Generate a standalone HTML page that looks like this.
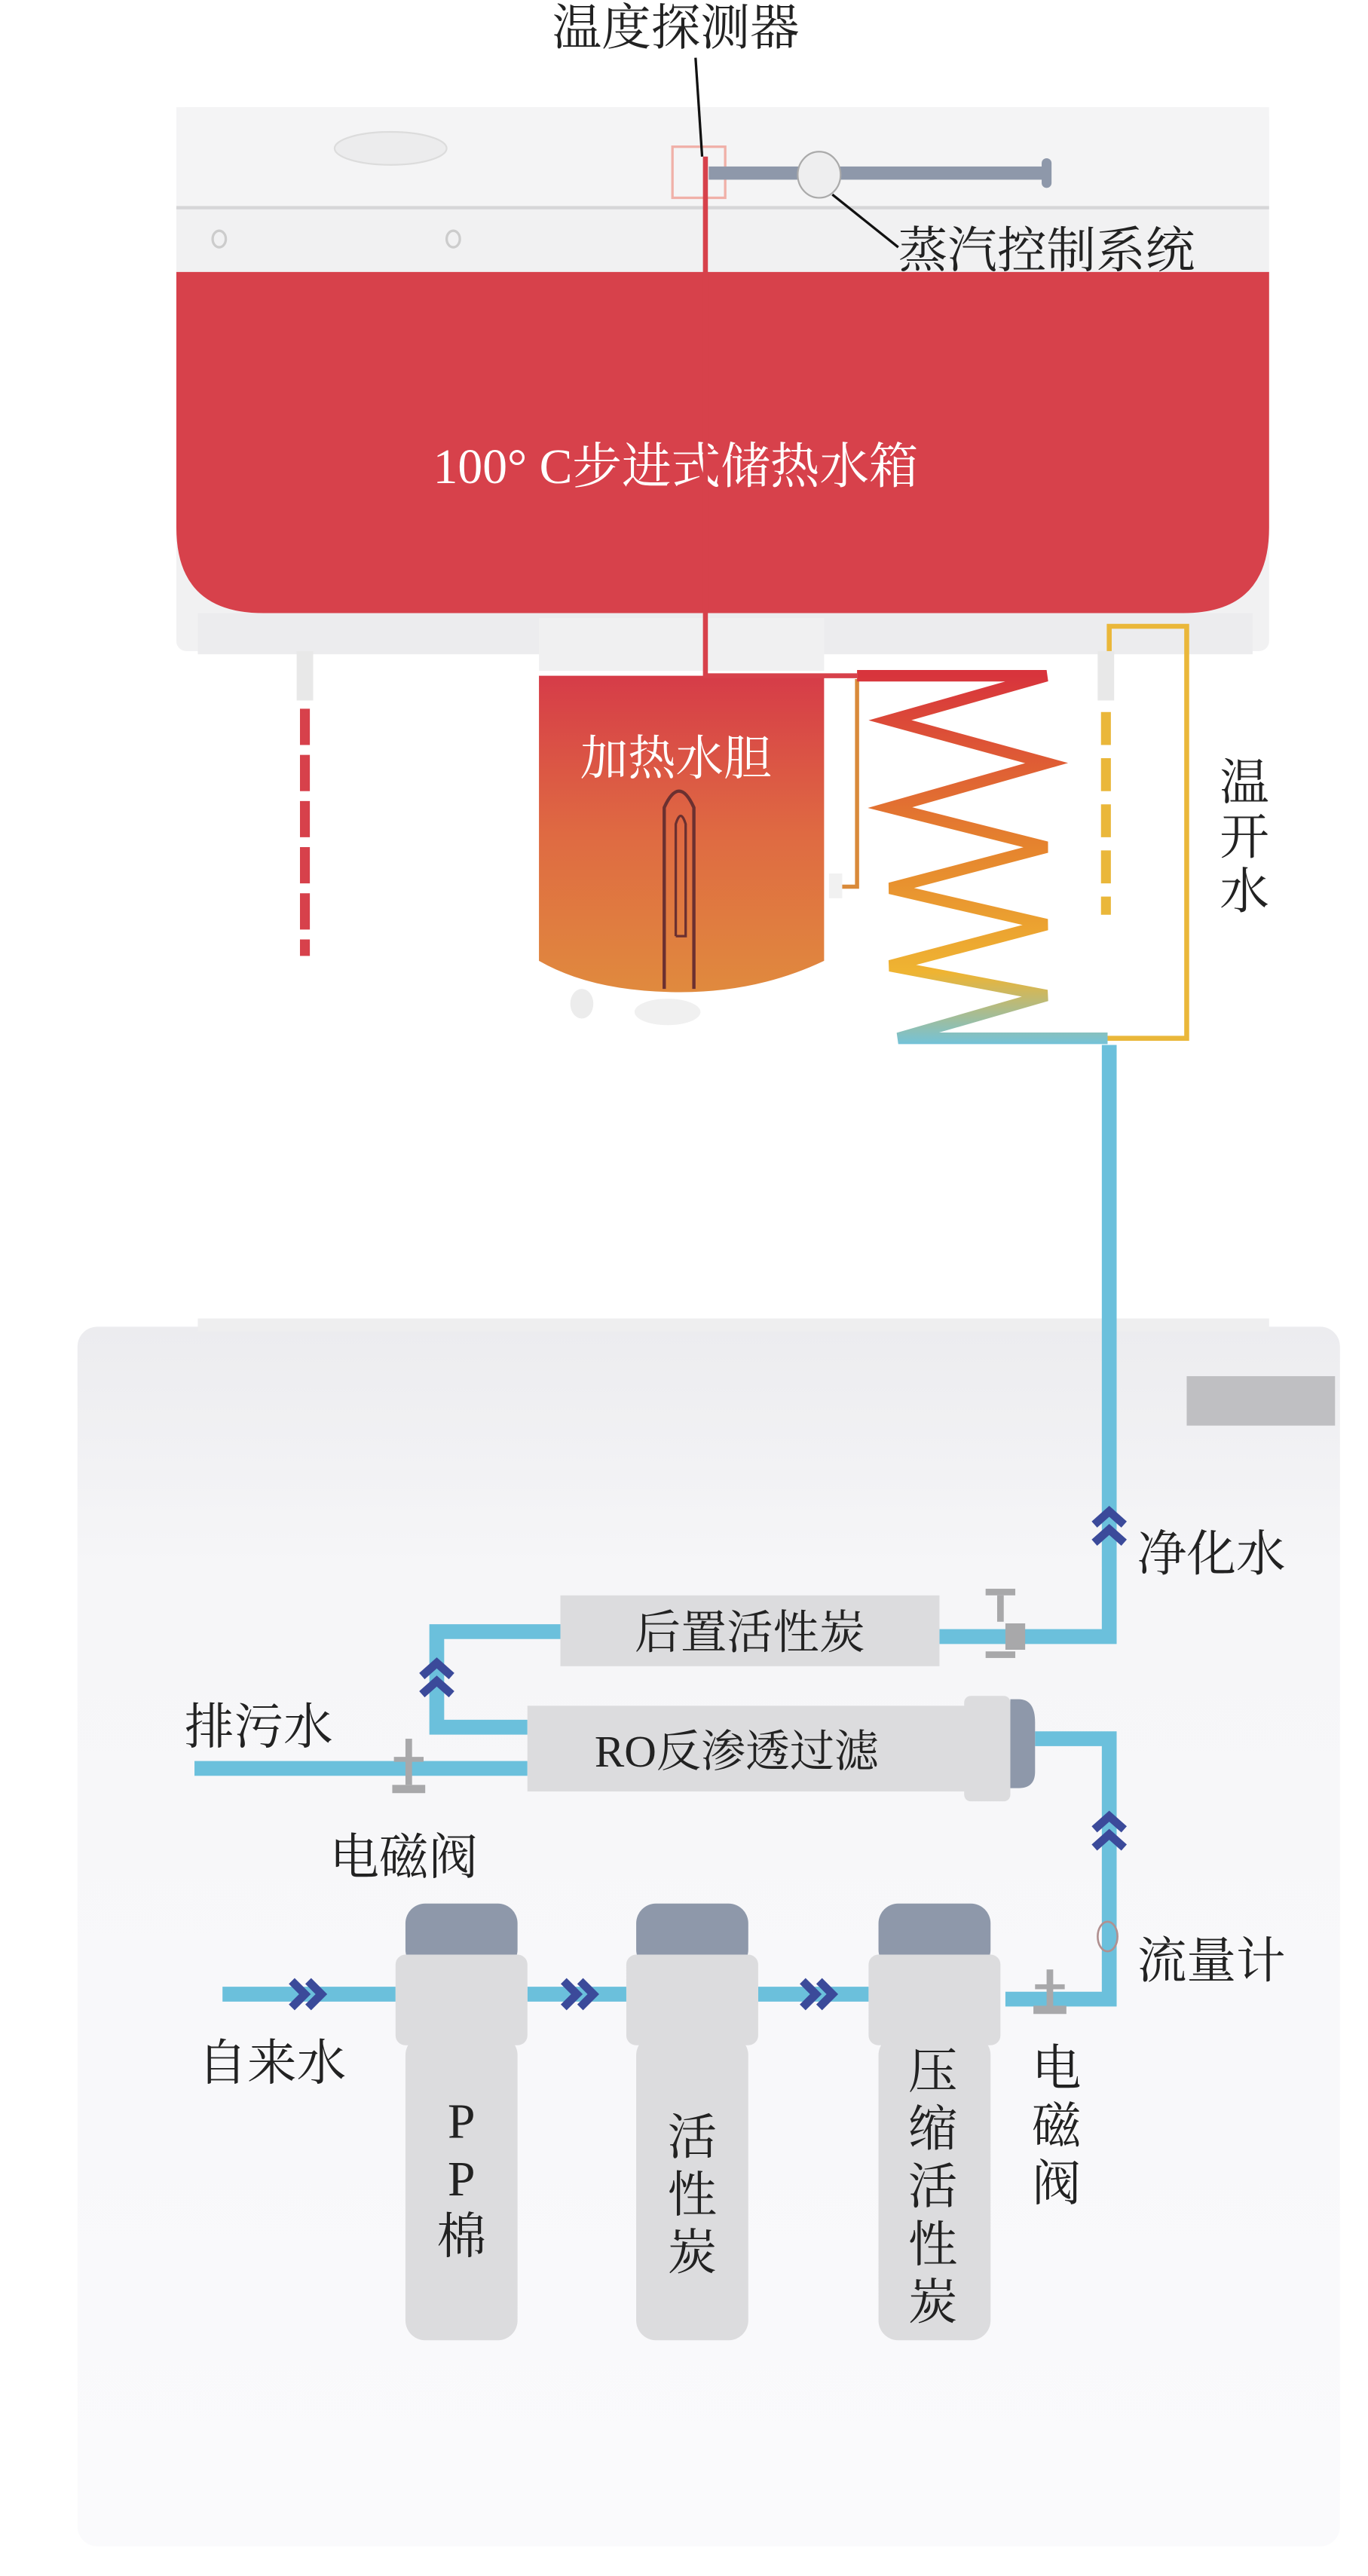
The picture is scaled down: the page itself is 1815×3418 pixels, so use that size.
<!DOCTYPE html>
<html><head><meta charset="utf-8"><style>
html,body{margin:0;padding:0;background:#fff;}
svg{display:block}
text{font-family:"Liberation Serif","Noto Serif CJK SC","Noto Sans CJK SC",serif;}
</style></head><body>
<svg width="1815" height="3418" viewBox="0 0 830 1563" xmlns="http://www.w3.org/2000/svg">
<defs>
<linearGradient id="heat" x1="0" y1="0" x2="0" y2="1">
<stop offset="0" stop-color="#d63c48"/><stop offset="0.5" stop-color="#df6a42"/><stop offset="1" stop-color="#e08a3e"/></linearGradient>
<linearGradient id="coil" x1="0" y1="410" x2="0" y2="635" gradientUnits="userSpaceOnUse">
<stop offset="0" stop-color="#d8343c"/><stop offset="0.45" stop-color="#e5822e"/><stop offset="0.8" stop-color="#efb432"/><stop offset="1" stop-color="#6fc3de"/></linearGradient>
<linearGradient id="cab" x1="0" y1="0" x2="0" y2="1">
<stop offset="0" stop-color="#ececef"/><stop offset="0.2" stop-color="#f6f6f8"/><stop offset="1" stop-color="#fafafc"/></linearGradient>
</defs>
<rect width="830" height="1563" fill="#fff"/>
<!-- lower cabinet -->
<rect x="47" y="805" width="766" height="740" rx="12" fill="url(#cab)"/>
<rect x="120" y="800" width="650" height="8" fill="#eeeeef"/>
<rect x="720" y="835" width="90" height="30" fill="#bfbfc2"/>
<!-- top housing -->
<rect x="107" y="65" width="663" height="330" rx="6" fill="#f1f1f2"/>
<rect x="107" y="65" width="663" height="60" fill="#f4f4f5"/>
<line x1="107" y1="126" x2="770" y2="126" stroke="#d6d6d8" stroke-width="2"/>
<ellipse cx="237" cy="90" rx="34" ry="10" fill="#ececed" stroke="#dcdcdc"/>
<ellipse cx="133" cy="145" rx="4" ry="5" fill="none" stroke="#ccc" stroke-width="1.5"/>
<ellipse cx="275" cy="145" rx="4" ry="5" fill="none" stroke="#ccc" stroke-width="1.5"/>
<path d="M107 165 H770 V320 Q770 372 718 372 H160 Q107 372 107 320 Z" fill="#d7414b"/>
<rect x="120" y="372" width="640" height="25" fill="#ececee"/>
<text x="410" y="293" font-size="30" fill="#fff" text-anchor="middle">100° C步进式储热水箱</text>
<!-- sensor & steam -->
<rect x="408" y="89" width="32" height="31" fill="none" stroke="#f0b0a8" stroke-width="1.5"/>
<rect x="430" y="101" width="205" height="8" fill="#8e98aa"/>
<rect x="632" y="96" width="6" height="18" rx="3" fill="#8e98aa"/>
<ellipse cx="497" cy="106" rx="13" ry="14" fill="#eeeeef" stroke="#aaa"/>
<line x1="422" y1="35" x2="426" y2="95" stroke="#111" stroke-width="1.5"/>
<line x1="505" y1="118" x2="545" y2="150" stroke="#111" stroke-width="1.5"/>
<text x="410" y="27" font-size="30" fill="#222" text-anchor="middle">温度探测器</text>
<text x="545" y="162" font-size="30" fill="#222">蒸汽控制系统</text>
<!-- heater -->
<rect x="327" y="375" width="173" height="32" fill="#f0f0f1"/>
<path d="M327 410 H500 V583 Q460 602 413 602 Q360 602 327 583 Z" fill="url(#heat)"/>
<ellipse cx="353" cy="609" rx="7" ry="9" fill="#ececec"/>
<ellipse cx="405" cy="614" rx="20" ry="8" fill="#f0f0f0"/>
<path d="M403 600 V490 Q412 470 421 490 V600" fill="none" stroke="#6b3030" stroke-width="2"/>
<path d="M410 568 V500 Q413 490 416 500 V568 H410" fill="none" stroke="#6b3030" stroke-width="1.5"/>
<text x="410" y="470" font-size="29" fill="#fff" text-anchor="middle">加热水胆</text>
<rect x="503" y="530" width="8" height="15" fill="#f1f1f1"/>
<path d="M511 538 H520 V412" fill="none" stroke="#d98a3a" stroke-width="2.5"/>
<!-- red line -->
<path d="M428 95 V410 H520" fill="none" stroke="#d7414b" stroke-width="3"/>
<!-- coil -->
<path d="M520 410 H635 L540 437 L635 463 L540 490 L635 514 L540 539 L635 561 L540 586 L635 604 L545 630 H672" fill="none" stroke="url(#coil)" stroke-width="7" stroke-linejoin="miter"/>
<!-- left red dashed -->
<rect x="180" y="395" width="10" height="30" fill="#e8e8e8"/>
<line x1="185" y1="430" x2="185" y2="580" stroke="#d7414b" stroke-width="6" stroke-dasharray="22 6"/>
<!-- right yellow -->
<rect x="666" y="395" width="10" height="30" fill="#e8e8e8"/>
<line x1="671" y1="432" x2="671" y2="555" stroke="#eab73a" stroke-width="6" stroke-dasharray="20 8"/>
<path d="M673 395 V380 H720 V630 H672" fill="none" stroke="#eab73a" stroke-width="3"/>
<text font-size="30" fill="#222"><tspan x="740" y="485">温</tspan><tspan x="740" y="518">开</tspan><tspan x="740" y="551">水</tspan></text>
<!-- blue pipes -->
<g fill="none" stroke="#6bc0dc" stroke-width="9">
<path d="M673 634 V993 H570"/>
<path d="M340 990 H265 V1048 H320"/>
<path d="M118 1073 H320"/>
<path d="M628 1055 H673 V1213 H610"/>
<path d="M135 1210 H240 M320 1210 H380 M460 1210 H527"/>
</g>
<!-- chevrons -->
<g fill="none" stroke="#3b4a9a" stroke-width="5">
<path d="M664 925 L673 917 L682 925 M664 936 L673 928 L682 936"/>
<path d="M256 1017 L265 1009 L274 1017 M256 1028 L265 1020 L274 1028"/>
<path d="M664 1110 L673 1102 L682 1110 M664 1121 L673 1113 L682 1121"/>
<path d="M177 1202 L185 1210 L177 1218 M187 1202 L195 1210 L187 1218"/>
<path d="M342 1202 L350 1210 L342 1218 M352 1202 L360 1210 L352 1218"/>
<path d="M487 1202 L495 1210 L487 1218 M497 1202 L505 1210 L497 1218"/>
</g>
<!-- valves -->
<g fill="#a8a8aa">
<rect x="610" y="985" width="12" height="16"/><rect x="598" y="964" width="18" height="4"/><rect x="605" y="968" width="4" height="16"/><rect x="598" y="1002" width="18" height="4"/>
<rect x="246" y="1055" width="4" height="28"/><rect x="239" y="1066" width="18" height="3"/><rect x="238" y="1083" width="20" height="5"/>
<rect x="635" y="1195" width="4" height="25"/><rect x="628" y="1204" width="18" height="3"/><rect x="627" y="1217" width="20" height="5"/>
</g>
<ellipse cx="672" cy="1175" rx="6" ry="9" fill="none" stroke="#b09090" stroke-width="1.2"/>
<!-- boxes -->
<rect x="340" y="968" width="230" height="43" fill="#dcdcde"/>
<text x="455" y="1000" font-size="28" fill="#222" text-anchor="middle">后置活性炭</text>
<rect x="320" y="1035" width="275" height="52" fill="#dcdcde"/>
<rect x="585" y="1029" width="28" height="64" rx="4" fill="#dcdcde"/>
<path d="M613 1031 H618 Q628 1031 628 1045 V1075 Q628 1085 618 1085 H613 Z" fill="#8e98aa"/>
<text x="447" y="1072" font-size="27" fill="#222" text-anchor="middle">RO反渗透过滤</text>
<!-- filters -->
<g>
<rect x="246" y="1155" width="68" height="40" rx="12" fill="#8e98aa"/>
<rect x="240" y="1186" width="80" height="55" rx="6" fill="#dcdcde"/>
<rect x="246" y="1235" width="68" height="185" rx="12" fill="#dcdcde"/>
<rect x="386" y="1155" width="68" height="40" rx="12" fill="#8e98aa"/>
<rect x="380" y="1186" width="80" height="55" rx="6" fill="#dcdcde"/>
<rect x="386" y="1235" width="68" height="185" rx="12" fill="#dcdcde"/>
<rect x="533" y="1155" width="68" height="40" rx="12" fill="#8e98aa"/>
<rect x="527" y="1186" width="80" height="55" rx="6" fill="#dcdcde"/>
<rect x="533" y="1235" width="68" height="185" rx="12" fill="#dcdcde"/>
</g>
<g font-size="30" fill="#222">
<text x="690" y="953">净化水</text>
<text x="112" y="1058">排污水</text>
<text x="200" y="1137">电磁阀</text>
<text x="690" y="1200">流量计</text>
<text x="120" y="1262">自来水</text>
<text text-anchor="middle"><tspan x="280" y="1297">P</tspan><tspan x="280" y="1332">P</tspan><tspan x="280" y="1367">棉</tspan></text>
<text text-anchor="middle"><tspan x="420" y="1307">活</tspan><tspan x="420" y="1342">性</tspan><tspan x="420" y="1377">炭</tspan></text>
<text text-anchor="middle"><tspan x="566" y="1267">压</tspan><tspan x="566" y="1302">缩</tspan><tspan x="566" y="1337">活</tspan><tspan x="566" y="1372">性</tspan><tspan x="566" y="1407">炭</tspan></text>
<text text-anchor="middle"><tspan x="641" y="1265">电</tspan><tspan x="641" y="1300">磁</tspan><tspan x="641" y="1335">阀</tspan></text>
</g>
</svg>
</body></html>
